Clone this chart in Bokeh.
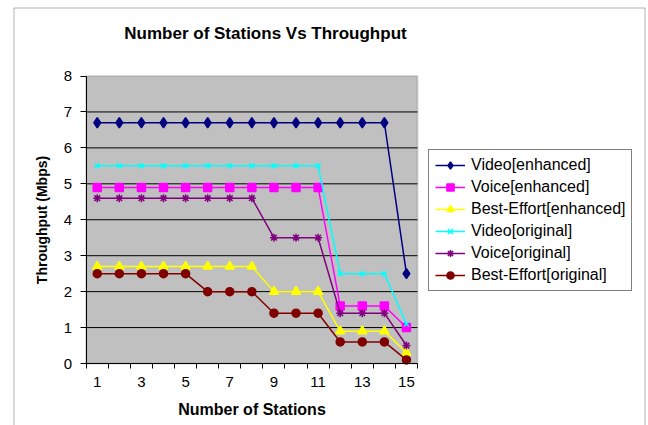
from bokeh.plotting import figure
from bokeh.models import FixedTicker, Legend, LegendItem, Label, BoxAnnotation, LinearAxis
from bokeh.embed import file_html
from bokeh.resources import INLINE

stations = [1, 2, 3, 4, 5, 6, 7, 8, 9, 10, 11, 12, 13, 14, 15]
video_enhanced = [6.7, 6.7, 6.7, 6.7, 6.7, 6.7, 6.7, 6.7, 6.7, 6.7, 6.7, 6.7, 6.7, 6.7, 2.5]
voice_enhanced = [4.9, 4.9, 4.9, 4.9, 4.9, 4.9, 4.9, 4.9, 4.9, 4.9, 4.9, 1.6, 1.6, 1.6, 1.0]
best_effort_enhanced = [2.7, 2.7, 2.7, 2.7, 2.7, 2.7, 2.7, 2.7, 2.0, 2.0, 2.0, 0.9, 0.9, 0.9, 0.3]
video_original = [5.5, 5.5, 5.5, 5.5, 5.5, 5.5, 5.5, 5.5, 5.5, 5.5, 5.5, 2.5, 2.5, 2.5, 1.1]
voice_original = [4.6, 4.6, 4.6, 4.6, 4.6, 4.6, 4.6, 4.6, 3.5, 3.5, 3.5, 1.4, 1.4, 1.4, 0.5]
best_effort_original = [2.5, 2.5, 2.5, 2.5, 2.5, 2.0, 2.0, 2.0, 1.4, 1.4, 1.4, 0.6, 0.6, 0.6, 0.1]

series_names = ["Video[enhanced]", "Voice[enhanced]", "Best-Effort[enhanced]",
                "Video[original]", "Voice[original]", "Best-Effort[original]"]
series_values = [video_enhanced, voice_enhanced, best_effort_enhanced,
                 video_original, voice_original, best_effort_original]
y_ticks = [0, 1, 2, 3, 4, 5, 6, 7, 8]
x_tick_labels = [1, 3, 5, 7, 9, 11, 13, 15]

colors = ["#000080", "#FF00FF", "#FFFF00", "#00FFFF", "#800080", "#800000"]
markers = ["diamond", "square", "triangle", "x", "asterisk", "circle"]
sizes = [10, 8, 9, 7, 8, 8]

FONT = "Liberation Sans"
W, H = 648, 425
# plot-area placement on the canvas (pixels)
PL, PR, PT, PB = 85.7, 417.0, 75.5, 363.0
X_LO, X_HI = 0.5, 15.5
Y_LO, Y_HI = 0.0, 8.0
sx = (PR - PL) / (X_HI - X_LO)
sy = (PB - PT) / (Y_HI - Y_LO)
x_start = X_LO - PL / sx
x_end = x_start + W / sx
y_start = Y_LO - (H - PB) / sy
y_end = Y_HI + PT / sy


def px_x(px):
    return x_start + px / sx


def px_y(py):
    return y_end - py / sy


p = figure(width=W, height=H, output_backend="svg", toolbar_location=None,
           x_range=(x_start, x_end), y_range=(y_start, y_end),
           x_axis_type=None, y_axis_type=None,
           min_border=0, min_border_left=0, min_border_right=0,
           min_border_top=0, min_border_bottom=0)
p.outline_line_color = None
p.background_fill_color = "white"
p.border_fill_color = "white"
p.grid.visible = False

# outer chart border
p.add_layout(BoxAnnotation(left=px_x(13.5), right=px_x(644.5), top=px_y(7.5), bottom=px_y(460),
                           fill_alpha=0, line_color="black", line_width=1, level="underlay"))
# plot area
p.add_layout(BoxAnnotation(left=X_LO, right=X_HI, bottom=Y_LO, top=Y_HI,
                           fill_color="#C0C0C0", fill_alpha=1,
                           line_color="#808080", line_width=2, level="underlay"))

# horizontal gridlines (inner ones; top edge is the plot-area border, bottom is the axis)
inner = y_ticks[1:-1]
p.segment(x0=[X_LO] * len(inner), x1=[X_HI] * len(inner), y0=inner, y1=inner,
          line_color="black", line_width=1)

# axes
yaxis = LinearAxis(fixed_location=X_LO, bounds=(Y_LO, Y_HI))
yaxis.ticker = FixedTicker(ticks=y_ticks)
yaxis.axis_line_color = "black"
yaxis.major_tick_in = 0
yaxis.major_tick_out = 6
yaxis.minor_tick_line_color = None
yaxis.major_label_text_font = FONT
yaxis.major_label_text_font_size = "15px"
yaxis.major_label_text_color = "black"
yaxis.major_label_standoff = 8
yaxis.axis_label = "Throughput (Mbps)"
yaxis.axis_label_text_font = FONT
yaxis.axis_label_text_font_size = "14px"
yaxis.axis_label_text_font_style = "bold"
yaxis.axis_label_text_color = "black"
yaxis.axis_label_standoff = 11
p.add_layout(yaxis, "left")

minor = [s - 0.5 for s in stations] + [stations[-1] + 0.5]
xaxis = LinearAxis(fixed_location=Y_LO, bounds=(X_LO, X_HI))
xaxis.ticker = FixedTicker(ticks=x_tick_labels, minor_ticks=minor)
xaxis.axis_line_color = "black"
xaxis.major_tick_line_color = None
xaxis.major_tick_in = 0
xaxis.major_tick_out = 5
xaxis.minor_tick_line_color = "black"
xaxis.minor_tick_in = 0
xaxis.minor_tick_out = 5
xaxis.major_label_text_font = FONT
xaxis.major_label_text_font_size = "15px"
xaxis.major_label_text_color = "black"
xaxis.major_label_standoff = 8
xaxis.axis_label = "Number of Stations"
xaxis.axis_label_text_font = FONT
xaxis.axis_label_text_font_size = "16px"
xaxis.axis_label_text_font_style = "bold"
xaxis.axis_label_text_color = "black"
xaxis.axis_label_standoff = 11
p.add_layout(xaxis, "below")

items = []
for name, vals, c, m, s in zip(series_names, series_values, colors, markers, sizes):
    r1 = p.line(stations, vals, line_color=c, line_width=1.5)
    r2 = p.scatter(stations, vals, marker=m, size=s, fill_color=c, line_color=c, line_width=1.5)
    items.append(LegendItem(label=name, renderers=[r1, r2]))

legend = Legend(items=items, location=(428, H - 291))
legend.label_text_font = FONT
legend.label_text_font_size = "16px"
legend.label_text_color = "black"
legend.glyph_width = 30
legend.glyph_height = 18
legend.label_height = 18
legend.label_standoff = 6
legend.spacing = 4
legend.padding = 6
legend.margin = 0
legend.border_line_color = "black"
legend.border_line_width = 1
legend.background_fill_color = "white"
legend.background_fill_alpha = 1
p.add_layout(legend)

title = Label(x=px_x(265), y=px_y(32.5), text="Number of Stations Vs Throughput",
              text_font=FONT, text_font_size="17px", text_font_style="bold",
              text_align="center", text_baseline="middle", text_color="black")
p.add_layout(title)

open("out.html", "w").write(file_html(p, INLINE))
